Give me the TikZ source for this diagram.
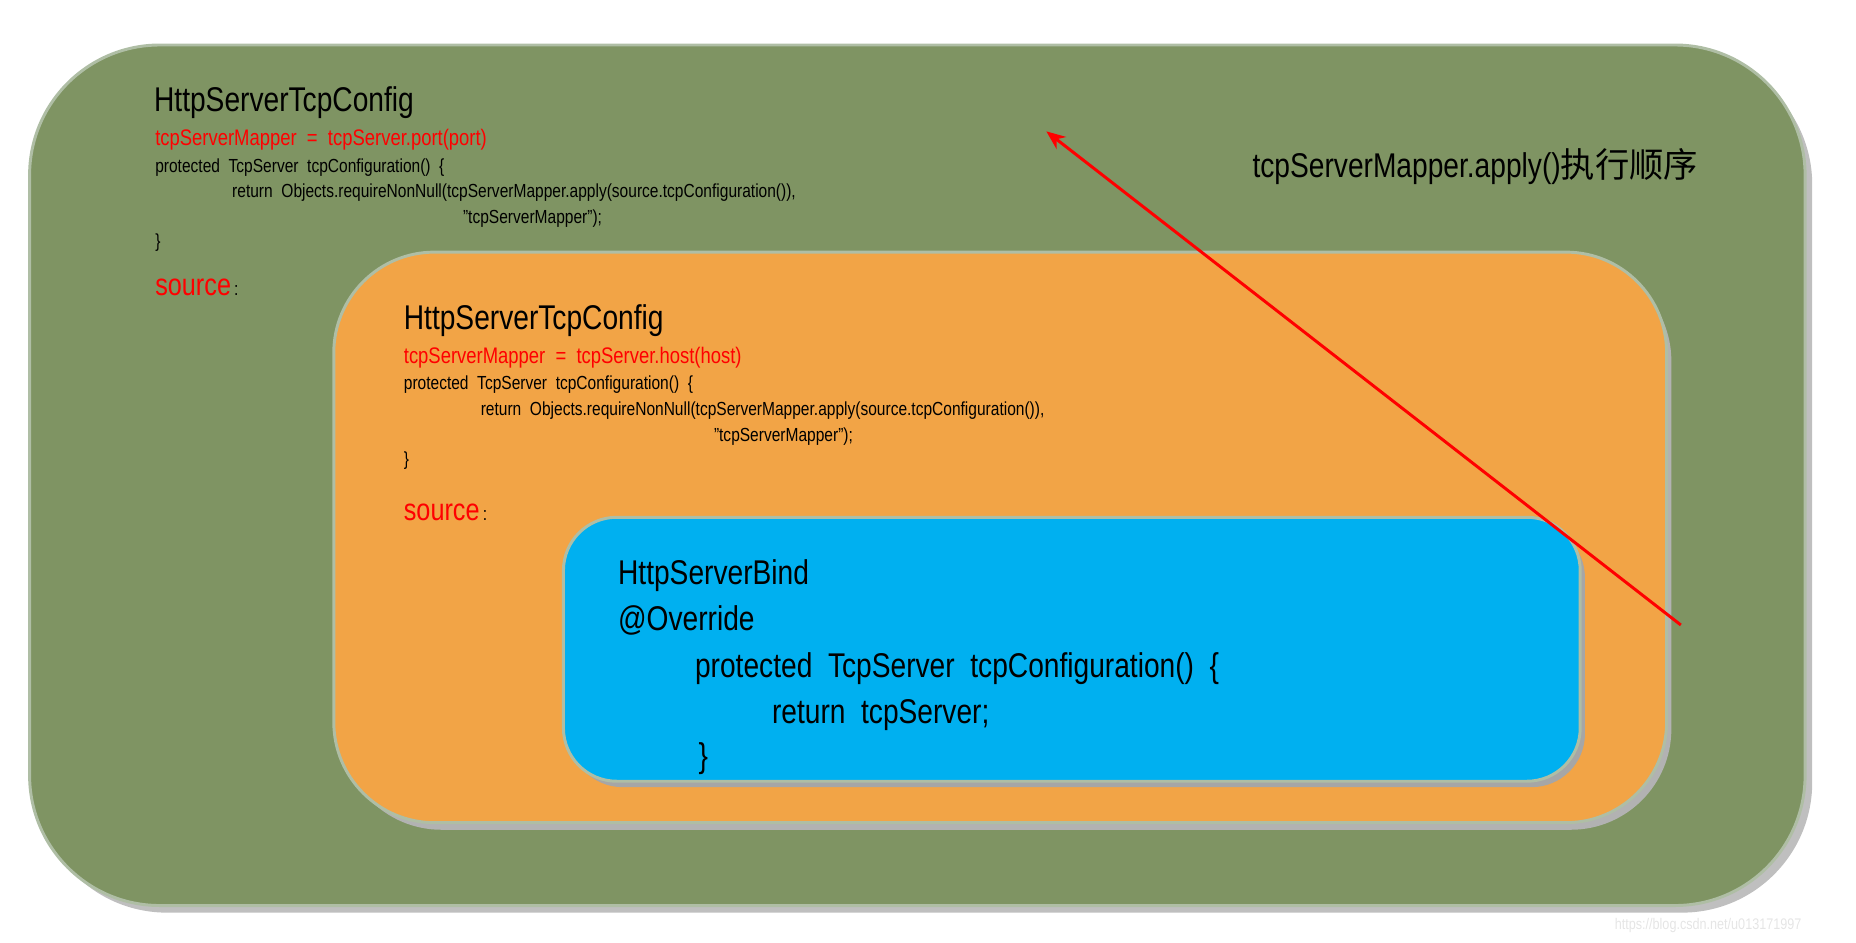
\documentclass[tikz,border=0pt]{standalone}
\usepackage{fontspec}
\setmainfont{Liberation Sans}[FakeStretch=0.82]
\newfontfamily\cjk{Noto Sans CJK SC}
\usetikzlibrary{arrows.meta}
\definecolor{grn}{RGB}{127,148,99}
\definecolor{org}{RGB}{242,164,70}
\definecolor{blu}{RGB}{0,176,240}
\definecolor{edge}{RGB}{175,190,165}
\begin{document}
\begin{tikzpicture}[x=1pt,y=-1pt,
  box/.style={draw=edge,line width=2.5pt},
  t/.style={anchor=base west,inner sep=0pt,font=\fontsize{#1}{#1}\selectfont},
  r/.style={t=#1,text=red}]
\useasboundingbox (0,0) rectangle (1568,796);
\fill[black!25,rounded corners=110pt] (31,46) rectangle (1531,771);
\draw[box,fill=grn,rounded corners=110pt] (25,38) rectangle (1525,765);
\fill[black!30,rounded corners=85pt] (288,220) rectangle (1412,701);
\draw[box,fill=org,rounded corners=85pt] (282,213) rectangle (1408,695);
\fill[black!35,rounded corners=45pt] (481,443) rectangle (1339,665);
\draw[box,fill=blu,rounded corners=45pt] (476,437) rectangle (1335,660);
% outer
\node[t=29] (a1) at (130,94) {HttpServerTcpConfig};
\node[r=19] (a2) at (131,123) {tcpServerMapper\ \ =\ \ tcpServer.port(port)};
\node[t=16] (a3) at (131,146) {protected\ \ TcpServer\ \ tcpConfiguration()\ \ \{};
\node[t=16] (a4) at (196,167) {return\ \ Objects.requireNonNull(tcpServerMapper.apply(source.tcpConfiguration()),};
\node[t=16] (a5) at (391,189) {"tcpServerMapper");};
\node[t=16] (a6) at (131,209) {\}};
\node[r=26] (a7) at (131,250) {source\textcolor{black}{\fontsize{16}{16}\selectfont\,:}};
\node[t=29] (lbl) at (1058,150) {tcpServerMapper.apply()\cjk 执行顺序};
% orange
\node[t=29] (b1) at (341,278) {HttpServerTcpConfig};
\node[r=19] (b2) at (341,307) {tcpServerMapper\ \ =\ \ tcpServer.host(host)};
\node[t=16] (b3) at (341,329) {protected\ \ TcpServer\ \ tcpConfiguration()\ \ \{};
\node[t=16] (b4) at (406,351) {return\ \ Objects.requireNonNull(tcpServerMapper.apply(source.tcpConfiguration()),};
\node[t=16] (b5) at (603,373) {"tcpServerMapper");};
\node[t=16] (b6) at (341,393) {\}};
\node[r=26] (b7) at (341,440) {source\textcolor{black}{\fontsize{16}{16}\selectfont\,:}};
% blue
\node[t=29] (c1) at (522,494) {HttpServerBind};
\node[t=29] (c2) at (522,533) {@Override};
\node[t=29] (c3) at (587,572) {protected\ \ TcpServer\ \ tcpConfiguration()\ \ \{};
\node[t=29] (c4) at (652,611) {return\ \ tcpServer;};
\node[t=29] (c5) at (590,648) {\}};
\node[t=13,text=white!80!gray] (wm) at (1364,785) {https://blog.csdn.net/u013171997};
\coordinate (s) at (1420,528);
\coordinate (e) at (884,111);
\draw[red,line width=2.5pt,-{Stealth[length=16pt,width=13pt]}] (s) -- (e);
\end{tikzpicture}
\end{document}
